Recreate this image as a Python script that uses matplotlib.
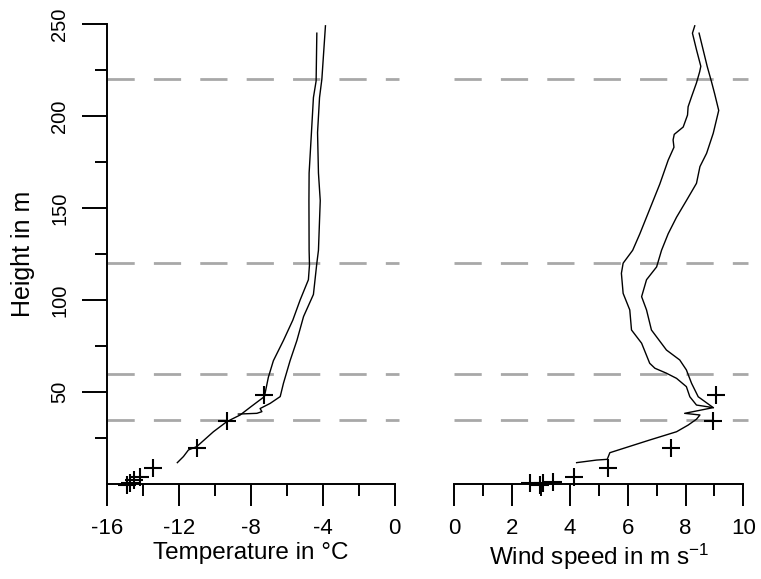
import matplotlib
matplotlib.use("Agg")
import matplotlib.pyplot as plt
from matplotlib.ticker import MultipleLocator, FixedLocator

plt.rcParams['font.family'] = ['Liberation Sans', 'DejaVu Sans']
plt.rcParams['mathtext.fontset'] = 'custom'
plt.rcParams['mathtext.rm'] = 'Liberation Sans'
plt.rcParams['mathtext.default'] = 'regular'
plt.rcParams['axes.unicode_minus'] = False

# Measurement levels of the mast (dashed reference lines)
mast_levels = [35, 60, 120, 220]

# Temperature profiles (degC) vs height (m)
temp_a_t = [-4.33, -4.37, -4.52, -4.63, -4.76, -4.77, -4.76, -4.74, -4.80, -5.26,
            -5.67, -6.19, -6.75, -7.03, -7.25, -8.00, -8.60, -9.34, -10.09,
            -11.02, -11.48, -11.76, -12.10]
temp_a_h = [245, 219, 210, 191, 169, 154, 127, 119, 111, 100,
            89, 78, 67, 58, 47.5, 42, 37.5, 33.9, 28.4,
            20.3, 18.5, 14.9, 11.6]

temp_b_t = [-3.85, -4.05, -4.18, -4.29, -4.24, -4.14, -4.24, -4.33, -4.52, -5.07,
            -5.44, -5.82, -6.19, -6.37, -6.93, -7.49, -7.39, -7.67, -8.70]
temp_b_h = [249, 220, 210, 191, 169, 154, 127, 120, 103, 91,
            78, 67, 54.7, 47.5, 43.8, 41, 39.3, 38.4, 38.0]

# Point measurements of temperature
temp_pts_t = [-7.3, -9.35, -11.0, -13.45, -14.2, -14.5, -14.75, -14.9]
temp_pts_h = [48.5, 34.5, 19.5, 8.5, 4.0, 2.0, 0.5, -0.3]

# Wind speed profiles (m/s) vs height (m)
wind_c_u = [8.32, 8.24, 8.38, 8.53, 8.49, 8.38, 8.21, 8.09, 8.07, 7.92,
            7.61, 7.57, 7.60, 7.40, 7.11, 6.88, 6.65, 6.42, 6.17, 5.84,
            5.78, 5.84, 6.07, 6.13, 6.48, 6.76, 6.94, 7.34, 7.69, 8.03,
            8.15, 8.38, 8.96, 7.97, 8.50, 8.38, 8.09, 7.69, 6.76, 5.96,
            5.38, 5.29, 4.92, 4.23]
wind_c_h = [249, 245, 236, 227, 224, 218, 210.5, 205, 200.5, 194,
            190, 187, 183, 176, 163, 154, 145, 136, 127, 120,
            114.5, 103.6, 94.6, 83.7, 76.5, 65.6, 62.9, 60.2, 57.4, 52.9,
            47.4, 42.9, 41.5, 38.4, 37.5, 35.2, 32, 28.4, 23.9, 19.9,
            17, 13.4, 13, 11.6]

wind_d_u = [8.47, 8.61, 8.75, 8.90, 9.01, 9.15, 8.96, 8.73, 8.50, 8.38,
            8.03, 7.69, 7.40, 7.17, 7.00, 6.65, 6.48, 6.65, 6.82, 7.34,
            7.80, 8.03, 8.21, 8.44, 8.96]
wind_d_h = [245, 236, 227, 218.6, 212, 203, 190.6, 179.7, 172.5, 163.4,
            154, 145, 136, 127, 118, 111, 101.8, 94.6, 83.7, 72.8,
            67.4, 62, 54.7, 47.4, 41.5]

# Point measurements of wind speed
wind_pts_u = [9.05, 8.95, 7.5, 5.3, 4.15, 3.4, 3.05, 2.95, 2.6]
wind_pts_h = [48.5, 34.5, 19.5, 8.5, 3.8, 1.2, 0.8, -0.8, 0.3]

temp_ticks = [-16, -12, -8, -4, 0]
wind_ticks = [0, 2, 4, 6, 8, 10]
height_ticks = [50, 100, 150, 200, 250]
height_minor = [25, 75, 125, 175, 225]

fig = plt.figure(figsize=(7.61, 5.79), dpi=100)
ax1 = fig.add_axes([0.1410, 0.1641, 0.3775, 0.7945])
ax2 = fig.add_axes([0.5972, 0.1641, 0.3795, 0.7945])

line_kw = dict(color='black', lw=1.0)
mark_kw = dict(ls='none', marker='+', ms=13, mew=1.5, color='black')
grid_kw = dict(color='#a8a8a8', lw=2.0, ls=(0, (9.8, 6.9)), zorder=0, clip_on=False)

for ax in (ax1, ax2):
    for lev in mast_levels:
        ax.axhline(lev, xmin=0, xmax=1.016, **grid_kw)
    ax.set_ylim(0, 250)
    for side in ('top', 'right'):
        ax.spines[side].set_visible(False)
    for side in ('left', 'bottom'):
        ax.spines[side].set_linewidth(1.4)
    ax.tick_params(axis='x', which='major', direction='out', length=16,
                   width=1.4, labelsize=16, pad=8.5)
    ax.tick_params(axis='x', which='minor', direction='out', length=8.5,
                   width=1.4)

ax1.plot(temp_a_t, temp_a_h, **line_kw)
ax1.plot(temp_b_t, temp_b_h, **line_kw)
ax1.plot(temp_pts_t, temp_pts_h, clip_on=False, **mark_kw)
ax1.set_xlim(-16, 0)
ax1.xaxis.set_major_locator(FixedLocator(temp_ticks))
ax1.xaxis.set_minor_locator(MultipleLocator(2))
ax1.yaxis.set_major_locator(FixedLocator(height_ticks))
ax1.yaxis.set_minor_locator(FixedLocator(height_minor))
ax1.tick_params(axis='y', which='major', direction='out', length=18,
                width=1.4, labelsize=14.5, pad=9.5)
ax1.tick_params(axis='y', which='minor', direction='out', length=8.5,
                width=1.4)
for lab in ax1.get_yticklabels():
    lab.set_rotation(90)
    lab.set_va('center')
ax1.set_xlabel('Temperature in °C', fontsize=17.5, labelpad=2)
ax1.set_ylabel('Height in m', fontsize=18, labelpad=11)

ax2.plot(wind_c_u, wind_c_h, **line_kw)
ax2.plot(wind_d_u, wind_d_h, **line_kw)
ax2.plot(wind_pts_u, wind_pts_h, clip_on=False, **mark_kw)
ax2.set_xlim(0, 10)
ax2.xaxis.set_major_locator(FixedLocator(wind_ticks))
ax2.xaxis.set_minor_locator(MultipleLocator(1))
ax2.spines['left'].set_visible(False)
ax2.tick_params(axis='y', which='both', left=False, labelleft=False)
ax2.set_xlabel('Wind speed in m s$^{-1}$', fontsize=17.5, labelpad=2)

fig.savefig('out.png', dpi=100)
